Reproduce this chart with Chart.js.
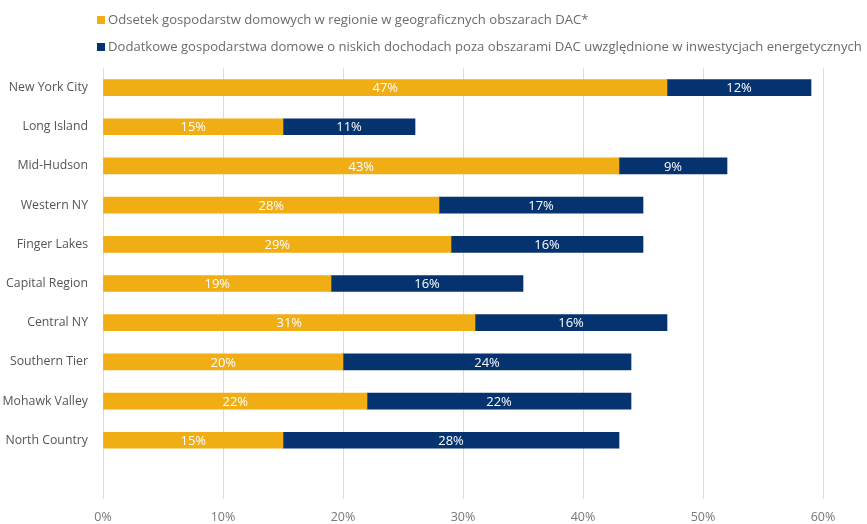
<!DOCTYPE html>
<html>
<head>
<meta charset="utf-8">
<script src="https://cdn.jsdelivr.net/npm/chart.js@4/dist/chart.umd.min.js"></script>
<style>
    html, body { margin: 0; padding: 0; background: #fff; }
    #wrap { position: relative; width: 867px; height: 524px; }
    #legend { position: absolute; left: 97px; top: 10px; font-family: "Open Sans", sans-serif; font-size: 13.1px; color: #6b6b6b; }
    #legend div { height: 27px; line-height: 18px; white-space: nowrap; }
    #legend span.sw { display: inline-block; width: 8px; height: 8px; margin-right: 3px; vertical-align: 0px; }
    canvas { position: absolute; left: 0; top: 0; }
</style>
</head>
<body>
<div id="wrap">
    <canvas id="c" width="867" height="524"></canvas>
    <div id="legend"></div>
</div>
<script>
(function () {
    'use strict';

    // regions, top to bottom; trailing empty slot leaves the gap above the axis
    var regions = ['New York City', 'Long Island', 'Mid-Hudson', 'Western NY', 'Finger Lakes',
        'Capital Region', 'Central NY', 'Southern Tier', 'Mohawk Valley', 'North Country', ''];
    var dacShare = [47, 15, 43, 28, 29, 19, 31, 20, 22, 15, null];
    var extraLowIncome = [12, 11, 9, 17, 16, 16, 16, 24, 22, 28, null];
    var seriesNames = [
        'Odsetek gospodarstw domowych w regionie w geograficznych obszarach DAC*',
        'Dodatkowe gospodarstwa domowe o niskich dochodach poza obszarami DAC uwzględnione w inwestycjach energetycznych'
    ];
    var xTicks = [0, 10, 20, 30, 40, 50, 60];

    var ORANGE = '#F0AD14';
    var NAVY = '#04336F';
    var FONT = '"Open Sans", sans-serif';

    var legend = document.getElementById('legend');
    [ORANGE, NAVY].forEach(function (col, i) {
        var row = document.createElement('div');
        var sw = document.createElement('span');
        sw.className = 'sw';
        sw.style.background = col;
        row.appendChild(sw);
        row.appendChild(document.createTextNode(seriesNames[i]));
        legend.appendChild(row);
    });

    // write each value in the middle of its bar segment
    var barLabels = {
        id: 'barLabels',
        afterDatasetsDraw: function (chart) {
            var ctx = chart.ctx;
            ctx.save();
            ctx.fillStyle = '#fff';
            ctx.font = '13px ' + FONT;
            ctx.textAlign = 'center';
            ctx.textBaseline = 'middle';
            chart.data.datasets.forEach(function (ds, di) {
                var meta = chart.getDatasetMeta(di);
                meta.data.forEach(function (bar, i) {
                    if (ds.data[i] == null) return;
                    ctx.fillText(ds.data[i] + '%', (bar.x + bar.base) / 2, bar.y + 1);
                });
            });
            ctx.restore();
        }
    };

    new Chart(document.getElementById('c'), {
        type: 'bar',
        data: {
            labels: regions,
            datasets: [
                { label: seriesNames[0], data: dacShare, backgroundColor: ORANGE, barThickness: 16 },
                { label: seriesNames[1], data: extraLowIncome, backgroundColor: NAVY, barThickness: 16 }
            ]
        },
        options: {
            indexAxis: 'y',
            responsive: false,
            animation: false,
            layout: { padding: { top: 68, right: 44, left: 0, bottom: 0 } },
            plugins: {
                legend: { display: false },
                tooltip: { enabled: false }
            },
            scales: {
                x: {
                    stacked: true,
                    min: 0,
                    max: 60,
                    afterBuildTicks: function (s) {
                        s.ticks = xTicks.map(function (v) { return { value: v }; });
                    },
                    afterFit: function (s) { s.height = 25; },
                    ticks: {
                        color: '#777',
                        font: { family: FONT, size: 12.5 },
                        padding: 11,
                        callback: function (v) { return v + '%'; }
                    },
                    grid: { color: '#dcdcdc', drawTicks: false },
                    border: { display: false }
                },
                y: {
                    stacked: true,
                    afterFit: function (s) { s.width = 103; },
                    ticks: { color: '#555', font: { family: FONT, size: 12.3 }, padding: 7 },
                    grid: { display: false },
                    border: { display: false }
                }
            }
        },
        plugins: [barLabels]
    });
})();
</script>
</body>
</html>
